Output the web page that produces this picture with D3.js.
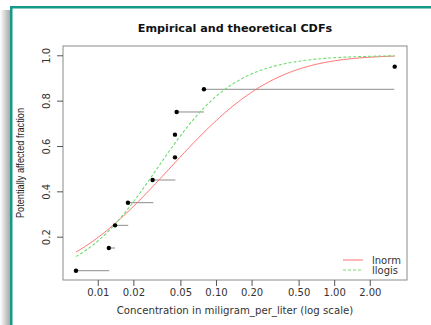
<!DOCTYPE html>
<html>
<head>
<meta charset="utf-8">
<script src="https://cdn.jsdelivr.net/npm/d3@7"></script>
<style>
  body { margin: 0; background: #fff; }
  svg { display: block; }
</style>
</head>
<body>
<div id="chart"></div>
<script>
// censored observations: left / right bounds and plotting position
const obsLeft  = [0.00654, 0.0124, 0.0140, 0.0180, 0.0291, 0.045, 0.045, 0.0465, 0.0791, 3.25];
const obsRight = [0.0125, 0.0140, 0.0181, 0.0295, 0.0453, 0.045, 0.045, 0.0791, 3.22, 3.25];
const obsFrac  = [0.05, 0.15, 0.25, 0.35, 0.45, 0.55, 0.65, 0.75, 0.85, 0.95];

const xTicks = [0.01, 0.02, 0.05, 0.10, 0.20, 0.50, 1.00, 2.00];
const yTicks = [0.2, 0.4, 0.6, 0.8, 1.0];

const fits = ['lnorm', 'llogis'];
const lnormPar = { meanlog: -3.21, sdlog: 1.63 };
const llogisPar = { shape: 1.31, scale: 0.0317 };

const width = 431, height = 325;
const margin = { top: 46, right: 24, bottom: 45, left: 63 };

const svg = d3.select('#chart').append('svg')
  .attr('width', width)
  .attr('height', height);

// frame with shadow like the source screenshot
const defs = svg.append('defs');
const grad = defs.append('linearGradient').attr('id', 'shade');
grad.append('stop').attr('offset', '0%').attr('stop-color', '#ffffff');
grad.append('stop').attr('offset', '100%').attr('stop-color', '#a8a8a8');
svg.append('rect').attr('x', 0).attr('y', 10).attr('width', 10).attr('height', height - 10)
  .attr('fill', 'url(#shade)');
svg.append('rect').attr('x', 10).attr('y', 6).attr('width', width - 10).attr('height', 2.5).attr('fill', '#17998a');
svg.append('rect').attr('x', 10).attr('y', 6).attr('width', 2.5).attr('height', height - 6).attr('fill', '#17998a');

const x = d3.scaleLog()
  .domain([0.00508, 4.13])
  .range([margin.left, width - margin.right]);

const y = d3.scaleLinear()
  .domain([0.009, 1.041])
  .range([height - margin.bottom, margin.top]);

// normal cdf via erf approximation
function erf(z) {
  const t = 1 / (1 + 0.3275911 * Math.abs(z));
  const p = 1 - (((((1.061405429 * t - 1.453152027) * t) + 1.421413741) * t - 0.284496736) * t + 0.254829592) * t * Math.exp(-z * z);
  return z >= 0 ? p : -p;
}
const plnorm = v => 0.5 * (1 + erf((Math.log(v) - lnormPar.meanlog) / (lnormPar.sdlog * Math.SQRT2)));
const pllogis = v => 1 / (1 + Math.pow(v / llogisPar.scale, -llogisPar.shape));

// plot box
svg.append('rect')
  .attr('x', margin.left).attr('y', margin.top)
  .attr('width', width - margin.left - margin.right)
  .attr('height', height - margin.top - margin.bottom)
  .attr('fill', 'none').attr('stroke', '#8a8a8a').attr('stroke-width', 1);

// x axis
const xAxis = svg.append('g')
  .attr('transform', `translate(0,${height - margin.bottom})`)
  .call(d3.axisBottom(x).tickValues(xTicks).tickFormat(d3.format('.2f')).tickSize(6).tickSizeOuter(0));
xAxis.select('.domain').remove();
xAxis.selectAll('line').attr('stroke', '#555');
xAxis.selectAll('text')
  .attr('y', 9)
  .style('font-family', 'DejaVu Sans')
  .style('font-size', '10px')
  .attr('fill', '#333');

// y axis
const yAxis = svg.append('g')
  .attr('transform', `translate(${margin.left},0)`)
  .call(d3.axisLeft(y).tickValues(yTicks).tickFormat(d3.format('.1f')).tickSize(6).tickSizeOuter(0));
yAxis.select('.domain').remove();
yAxis.selectAll('line').attr('stroke', '#555');
yAxis.selectAll('text')
  .attr('x', 0).attr('y', 0).attr('dy', 0)
  .attr('transform', 'translate(-13,0) rotate(-90)')
  .style('text-anchor', 'middle')
  .style('font-family', 'DejaVu Sans')
  .style('font-size', '10px')
  .attr('fill', '#333');

// titles
svg.append('text')
  .attr('x', 235).attr('y', 32)
  .style('text-anchor', 'middle')
  .style('font-family', 'DejaVu Sans')
  .style('font-weight', 'bold')
  .style('font-size', '11.2px')
  .attr('fill', '#111')
  .text('Empirical and theoretical CDFs');

svg.append('text')
  .attr('x', 235).attr('y', 314)
  .style('text-anchor', 'middle')
  .style('font-family', 'DejaVu Sans')
  .style('font-size', '10.2px')
  .attr('fill', '#333')
  .text('Concentration in miligram_per_liter (log scale)');

svg.append('text')
  .attr('transform', 'translate(24,163) rotate(-90)')
  .style('text-anchor', 'middle')
  .style('font-family', 'Liberation Sans, sans-serif')
  .style('font-size', '11px')
  .attr('textLength', 110)
  .attr('lengthAdjust', 'spacingAndGlyphs')
  .attr('fill', '#222')
  .text('Potentially affected fraction');

// censored intervals
svg.append('g').selectAll('line')
  .data(obsFrac.map((f, i) => ({ f, lo: obsLeft[i], hi: obsRight[i] })))
  .enter().append('line')
  .attr('x1', d => x(d.lo)).attr('x2', d => x(d.hi))
  .attr('y1', d => y(d.f)).attr('y2', d => y(d.f))
  .attr('stroke', '#8c8c8c').attr('stroke-width', 1);

// fitted cdfs
const grid = d3.range(0, 201).map(i => Math.exp(Math.log(0.00654) + i / 200 * (Math.log(3.25) - Math.log(0.00654))));
const line = fn => d3.line().x(d => x(d)).y(d => y(fn(d)))(grid);

svg.append('path').attr('d', line(plnorm))
  .attr('fill', 'none').attr('stroke', '#ff6f6f').attr('stroke-width', 1);
svg.append('path').attr('d', line(pllogis))
  .attr('fill', 'none').attr('stroke', '#6fdc6f').attr('stroke-width', 1.1)
  .attr('stroke-dasharray', '3,2');

// points
svg.append('g').selectAll('circle')
  .data(obsFrac.map((f, i) => ({ f, lo: obsLeft[i] })))
  .enter().append('circle')
  .attr('cx', d => x(d.lo)).attr('cy', d => y(d.f))
  .attr('r', 2.2).attr('fill', '#000');

// legend
const legend = svg.append('g');
fits.forEach((name, i) => {
  const ly = 260 + i * 10;
  legend.append('line')
    .attr('x1', 343).attr('x2', 363).attr('y1', ly).attr('y2', ly)
    .attr('stroke', i === 0 ? '#ff6f6f' : '#6fdc6f')
    .attr('stroke-width', 1)
    .attr('stroke-dasharray', i === 0 ? null : '3,2');
  legend.append('text')
    .attr('x', 372).attr('y', ly + 3.5)
    .style('font-family', 'DejaVu Sans')
    .style('font-size', '10px')
    .attr('fill', '#333')
    .text(name);
});
</script>
</body>
</html>
